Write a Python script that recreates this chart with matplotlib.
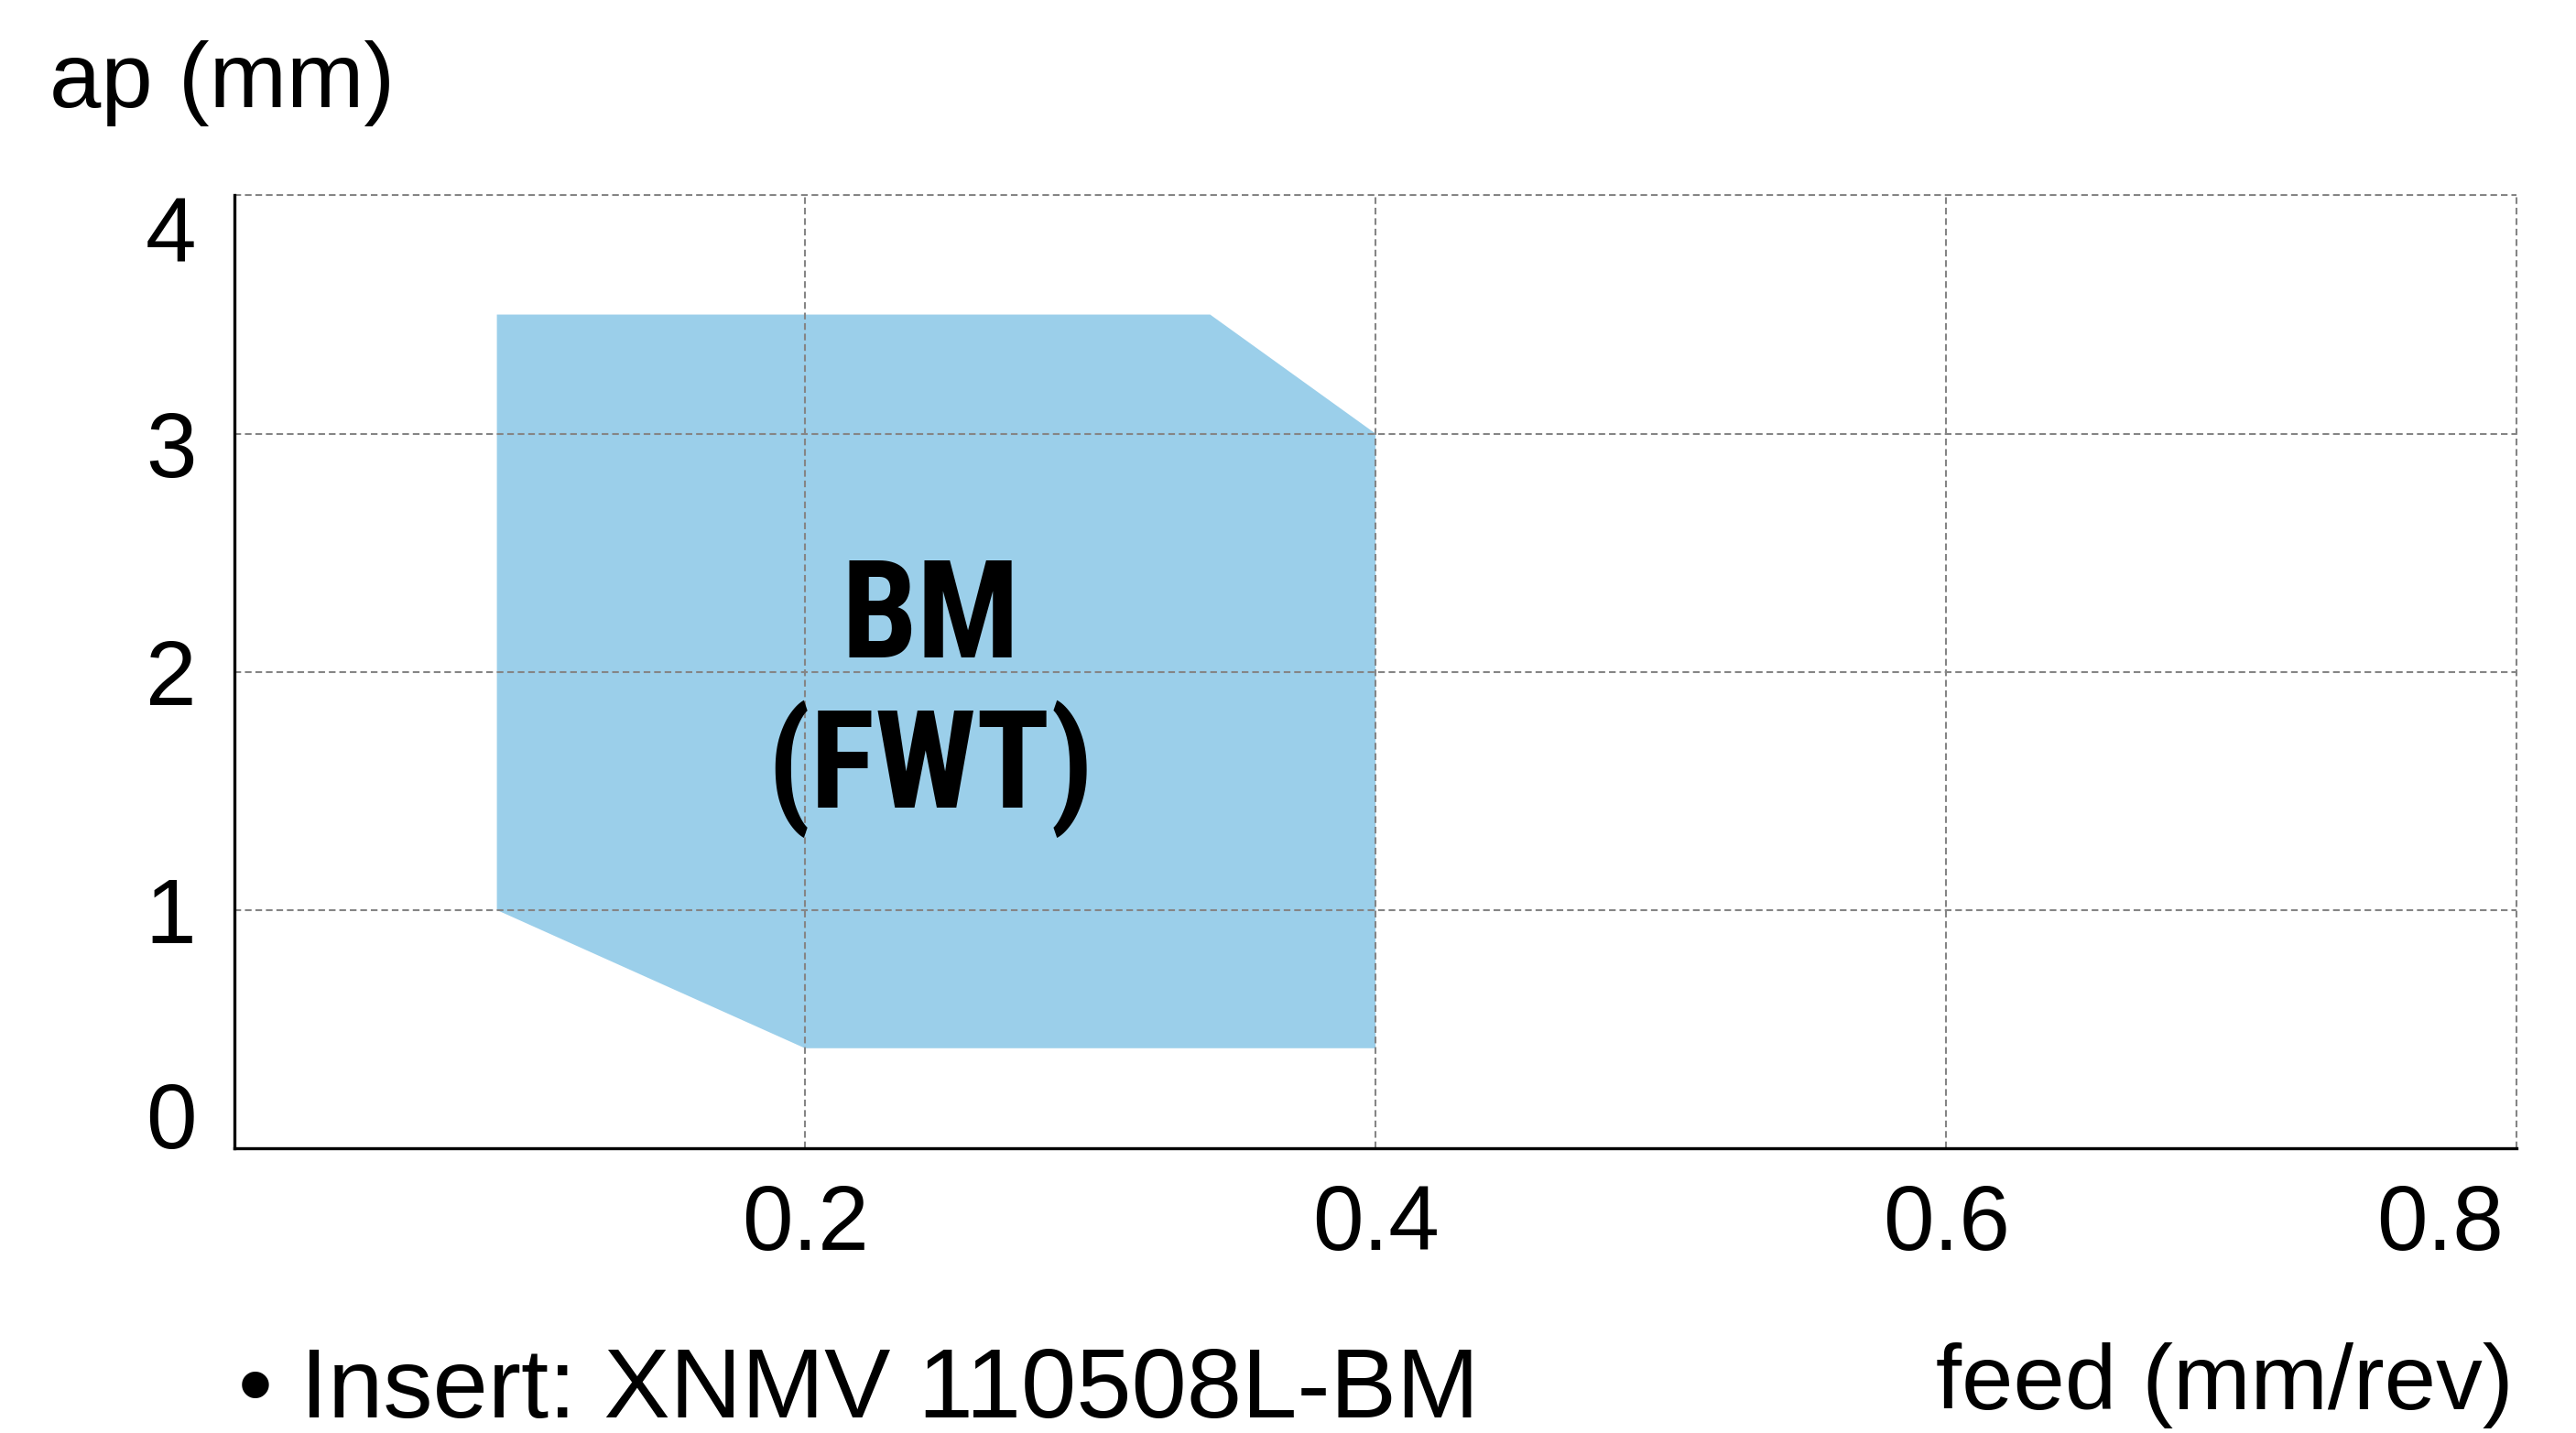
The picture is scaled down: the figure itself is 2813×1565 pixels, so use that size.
import matplotlib
matplotlib.use("Agg")
import matplotlib.pyplot as plt
from matplotlib.patches import Polygon
from matplotlib import font_manager
from matplotlib.transforms import ScaledTranslation

# chart data
region_feed = [0.092, 0.342, 0.4, 0.4, 0.2, 0.092]
region_ap = [3.5, 3.5, 3.0, 0.42, 0.42, 1.0]
x_ticks = [0.2, 0.4, 0.6, 0.8]
y_ticks = [0, 1, 2, 3, 4]
region_label = ["BM", "(FWT)"]
insert_note = "\u2022 Insert: XNMV 110508L-BM"

plt.rcParams['font.family'] = ['Liberation Sans', 'DejaVu Sans']


def pick_condensed_bold():
    # look for a narrow bold face among the installed fonts
    wanted = ['Liberation Sans Narrow', 'Roboto Condensed', 'Open Sans Condensed',
              'Noto Sans', 'DejaVu Sans']
    cands = []
    for f in font_manager.fontManager.ttflist:
        narrow = ('ondensed' in f.fname or 'arrow' in f.fname
                  or f.stretch in ('condensed', 'semi-condensed', 'extra-condensed', 'narrow'))
        w = f.weight if isinstance(f.weight, int) else (700 if 'bold' in str(f.weight) else 400)
        if narrow and w >= 600 and 'Oblique' not in f.fname and 'Italic' not in f.fname:
            rank = wanted.index(f.name) if f.name in wanted else len(wanted)
            cands.append((rank, abs(w - 700), f.fname))
    if cands:
        cands.sort()
        return font_manager.FontProperties(fname=cands[0][2])
    return font_manager.FontProperties(family='Liberation Sans', weight='bold')


fig = plt.figure(figsize=(28.13, 15.65), dpi=100)
ax = fig.add_axes([0.091, 0.1987, 0.886, 0.6649])

# blue application area
poly = Polygon(list(zip(region_feed, region_ap)), closed=True,
               facecolor='#9bcfea', edgecolor='none', zorder=1)
ax.add_patch(poly)

ax.set_xlim(0, 0.8)
ax.set_ylim(0, 4)
ax.set_xticks(x_ticks)
ax.set_yticks(y_ticks)
ax.set_xticklabels([f"{v:.1f}" for v in x_ticks])
ax.set_yticklabels([str(v) for v in y_ticks])
ax.tick_params(axis='both', length=0, labelsize=72)
ax.tick_params(axis='x', pad=27)
ax.tick_params(axis='y', pad=30)

# dashed grid, also acts as top/right border
for xv in x_ticks:
    ax.axvline(xv, color='#858585', lw=1.5, ls=(0, (3.5, 2)), zorder=2, clip_on=False)
for yv in y_ticks[1:]:
    ax.axhline(yv, color='#858585', lw=1.5, ls=(0, (3.5, 2)), zorder=2, clip_on=False)

for s in ['top', 'right']:
    ax.spines[s].set_visible(False)
for s in ['left', 'bottom']:
    ax.spines[s].set_linewidth(2.4)
    ax.spines[s].set_zorder(3)

# shift the end labels like the original
ylabels = ax.get_yticklabels()
ylabels[0].set_va('baseline')
ylabels[-1].set_va('top')
ylabels[3].set_transform(ylabels[3].get_transform()
                         + ScaledTranslation(0, -8 / 72, fig.dpi_scale_trans))
xlabels = ax.get_xticklabels()
xlabels[-1].set_transform(xlabels[-1].get_transform()
                          + ScaledTranslation(-60 / 72, 0, fig.dpi_scale_trans))

# label inside the area, sized so "(FWT)" is as wide as in the original
fp = pick_condensed_bold()
t1 = ax.text(0.244, 2.06, region_label[0], ha='center', va='baseline',
             fontproperties=fp, fontsize=112, zorder=4)
t2 = ax.text(0.244, 1.43, region_label[1], ha='center', va='baseline',
             fontproperties=fp, fontsize=112, zorder=4)
fig.canvas.draw()
r = fig.canvas.get_renderer()
scale = 357.0 / t2.get_window_extent(r).width
size = min(125, 112 * scale)
t1.set_fontsize(size)
t2.set_fontsize(size)

fig.text(0.0192, 0.9255, "ap (mm)", ha='left', va='baseline', fontsize=73)
fig.text(0.9758, 0.0164, "feed (mm/rev)", ha='right', va='baseline', fontsize=73)
fig.text(0.0925, 0.011, insert_note, ha='left', va='baseline', fontsize=78)

fig.savefig("out.png", dpi=100)
